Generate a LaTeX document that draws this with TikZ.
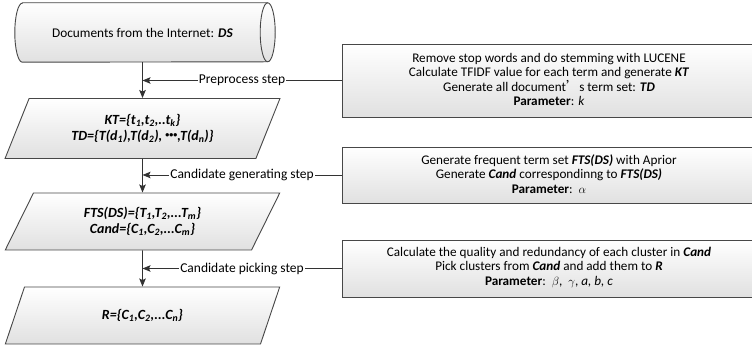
\documentclass[tikz,border=0pt]{standalone}
\usepackage{fontspec}
\setmainfont{Carlito}
\newfontfamily\cjk{Noto Sans CJK SC}
\usetikzlibrary{shapes.geometric,arrows.meta}
\begin{document}
\begin{tikzpicture}[x=1pt,y=1pt,
  outl/.style={draw=black!72, line width=0.9pt},
  shadefill/.style={top color=white, bottom color=black!12},
  para/.style={shape=trapezium, trapezium left angle=62, trapezium right angle=118,
    trapezium stretches=true, outl, shadefill, minimum width=275pt, inner sep=0pt,
    font=\fontsize{14}{16}\selectfont\bfseries\itshape, align=center},
  rbox/.style={outl, shadefill, rectangle, minimum width=420pt, inner sep=0pt},
  btext/.style={font=\fontsize{13.2}{14.6}\selectfont, align=center, inner sep=0pt},
  steplabel/.style={fill=white, inner sep=1.2pt, font=\fontsize{13.5}{15}\selectfont},
  flow/.style={draw=black!80, line width=0.9pt, -{Stealth[length=8pt,width=6.5pt,inset=1.5pt]}},
]
\clip (0,0) rectangle (752,347);
\fill[white] (0,0) rectangle (752,347);

% cylinder
\node[minimum width=245pt, minimum height=59pt, inner sep=0pt] (cyl) at (145,314.5) {};
\path[outl, shadefill] (cyl.north west) -- (cyl.north east)
  arc[start angle=90, end angle=-90, x radius=7.5pt, y radius=29.5pt]
  -- (cyl.south west)
  arc[start angle=270, end angle=90, x radius=7.5pt, y radius=29.5pt] -- cycle;
\draw[outl] (cyl.north east) arc[start angle=90, end angle=270, x radius=7.5pt, y radius=29.5pt];
\node[inner sep=0pt, font=\fontsize{13.3}{15}\selectfont] (cyltext) at (142.5,314.5)
      {Documents from the Internet: \textbf{\textit{DS}}};

% parallelograms
\node[para, minimum height=60pt] (p1) at (142.5,218.5)
  {KT=\{t\textsubscript{1},t\textsubscript{2},..t\textsubscript{k}\}\\
   TD=\{T(d\textsubscript{1}),T(d\textsubscript{2}), {\upshape\raisebox{0.2em}{\fontsize{8}{8}\selectfont •••}},T(d\textsubscript{n})\}};
\node[para, minimum height=57pt] (p2) at (142.5,125.5)
  {FTS(DS)=\{T\textsubscript{1},T\textsubscript{2},...T\textsubscript{m}\}\\
   Cand=\{C\textsubscript{1},C\textsubscript{2},...C\textsubscript{m}\}};
\node[para, minimum height=57pt] (p3) at (142.5,31.5)
  {R=\{C\textsubscript{1},C\textsubscript{2},...C\textsubscript{n}\}};

% right boxes
\node[rbox, minimum height=73pt] (b1) at (552,266.5) {};
\node[rbox, minimum height=56pt] (b2) at (552,172) {};
\node[rbox, minimum height=57pt] (b3) at (552,78.5) {};

\node[btext] (t1) at (549,267.5)
  {Remove stop words and do stemming with LUCENE\\
   Calculate TFIDF value for each term and generate \textbf{\textit{KT}}\\
   Generate all document{\cjk ’}s term set: \textbf{\textit{TD}}\\
   \textbf{Parameter}: \textit{k}};
\node[btext] (t2) at (549,173)
  {Generate frequent term set \textbf{\textit{FTS(DS)}} with Aprior\\
   Generate \textbf{\textit{Cand}} correspondinng to \textbf{\textit{FTS(DS)}}\\
   \textbf{Parameter}:~~$\alpha$};
\node[btext] (t3) at (549,79.5)
  {Calculate the quality and redundancy of each cluster in \textbf{\textit{Cand}}\\
   Pick clusters from \textbf{\textit{Cand}} and add them to \textbf{\textit{R}}\\
   \textbf{Parameter}:~~$\beta$,~~$\gamma$, \textit{a, b, c}};

% vertical flow
\draw[flow] (cyl.south -| p1.north) -- (p1.north);
\draw[flow] (p1.south) -- (p2.north);
\draw[flow] (p2.south) -- (p3.north);

% step connectors
\draw[flow] (b1.west) -- node[steplabel] {Preprocess step} (b1.west -| p1.north);
\draw[flow] (b2.west) -- node[steplabel] {Candidate generating step} (b2.west -| p1.north);
\draw[flow] (b3.west) -- node[steplabel] {Candidate picking step} (b3.west -| p1.north);
\end{tikzpicture}
\end{document}
